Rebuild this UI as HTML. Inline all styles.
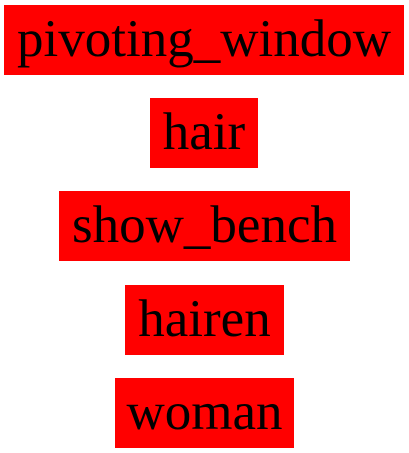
<!DOCTYPE html>
<html><head><meta charset="utf-8"><style>
body{margin:0;width:409px;height:453px;background:#fff;position:relative;overflow:hidden}
.b{position:absolute;height:70px;background:#ff0000;color:#000;font-family:"Liberation Serif",serif;font-size:53px;line-height:68px;text-align:center;white-space:nowrap}
</style></head><body>
<div class="b" style="left:4px;top:5px;width:400px">pivoting_window</div>
<div class="b" style="left:150px;top:98px;width:108px">hair</div>
<div class="b" style="left:59px;top:191px;width:291px">show_bench</div>
<div class="b" style="left:125px;top:285px;width:159px">hairen</div>
<div class="b" style="left:115px;top:378px;width:179px">woman</div>
</body></html>
